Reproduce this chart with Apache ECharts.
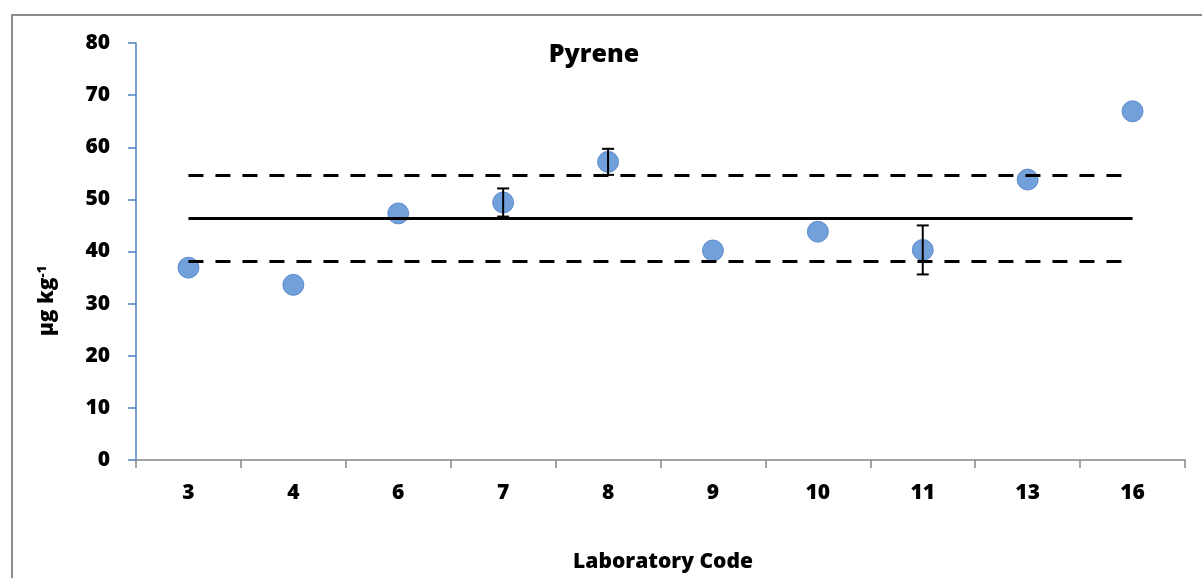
<!DOCTYPE html>
<html>
<head>
<meta charset="utf-8">
<script src="https://cdn.jsdelivr.net/npm/echarts@6/dist/echarts.min.js"></script>
<style>
  html, body { margin: 0; padding: 0; background: #ffffff; }
  #wrap { position: relative; width: 1202px; height: 578px; overflow: hidden; }
  #frame { position: absolute; left: 11px; top: 14px; width: 1300px; height: 700px;
           border-left: 2px solid #8c8c8c; border-top: 2px solid #8c8c8c; box-sizing: border-box; }
  #chart { position: absolute; left: 0; top: 0; width: 1202px; height: 578px; }
</style>
</head>
<body>
<div id="wrap">
  <div id="frame"></div>
  <div id="chart"></div>
</div>
<script>
// Laboratory codes and reported pyrene results (µg kg-1)
const labCodes = ['3', '4', '6', '7', '8', '9', '10', '11', '13', '16'];
const results = [36.9, 33.6, 47.3, 49.4, 57.2, 40.2, 43.8, 40.3, 53.8, 66.9];
// Reported uncertainty (± half-range); null where none was given
const uncertainty = [null, null, null, 2.7, 2.5, null, null, 4.7, null, null];
// Assigned value and acceptance limits
const assignedValue = 46.3;
const upperLimit = 54.6;
const lowerLimit = 38.1;
const yTicks = { min: 0, max: 80, interval: 10 };

const FONT = '"Open Sans", "Liberation Sans", sans-serif';
const WEIGHT = 800;
const chart = echarts.init(document.getElementById('chart'), null, { renderer: 'canvas' });

const errorData = labCodes.map((c, i) => uncertainty[i] == null ? null
  : [i, results[i] - uncertainty[i], results[i] + uncertainty[i]]);

function refLine(value, type) {
  return {
    silent: true,
    symbol: ['none', 'none'],
    label: { show: false },
    lineStyle: { color: '#000000', width: 3.2, type: type, dashOffset: 0 },
    data: [[{ coord: [labCodes[0], value] }, { coord: [labCodes[labCodes.length - 1], value] }]]
  };
}

chart.setOption({
  animation: false,
  grid: { left: 136, right: 17, top: 43, bottom: 118, containLabel: false },
  title: {
    text: 'Pyrene',
    left: 589, top: 37,
    textAlign: 'center',
    textStyle: { fontFamily: FONT, fontWeight: WEIGHT, fontSize: 25, color: '#000' }
  },
  xAxis: {
    type: 'category',
    data: labCodes,
    boundaryGap: true,
    axisLine: { lineStyle: { color: '#868686', width: 1.5 } },
    axisTick: { show: true, length: 8, alignWithLabel: false, lineStyle: { color: '#868686', width: 1.5 } },
    axisLabel: { margin: 23, fontFamily: FONT, fontWeight: WEIGHT, fontSize: 21, color: '#000' },
    splitLine: { show: false }
  },
  yAxis: {
    type: 'value',
    min: yTicks.min, max: yTicks.max, interval: yTicks.interval,
    axisLine: { show: true, lineStyle: { color: '#4f81bd', width: 1.5 } },
    axisTick: { show: true, length: 8, lineStyle: { color: '#4f81bd', width: 1.5 } },
    axisLabel: { margin: 26, fontFamily: FONT, fontWeight: WEIGHT, fontSize: 21, color: '#000' },
    splitLine: { show: false }
  },
  graphic: [
    {
      type: 'text', x: 47, y: 301, rotation: Math.PI / 2,
      style: {
        text: '{m|µg kg}{s|-1}',
        align: 'center', verticalAlign: 'middle',
        rich: {
          m: { fontFamily: FONT, fontWeight: WEIGHT, fontSize: 21, fill: '#000' },
          s: { fontFamily: FONT, fontWeight: WEIGHT, fontSize: 13, fill: '#000', verticalAlign: 'top', padding: [0, 0, 10, 0] }
        }
      }
    },
    {
      type: 'text', x: 663, y: 562,
      style: {
        text: 'Laboratory Code', align: 'center', verticalAlign: 'middle',
        fontFamily: FONT, fontWeight: WEIGHT, fontSize: 21, fill: '#000'
      }
    }
  ],
  series: [
    {
      name: 'Result',
      type: 'scatter',
      data: results,
      symbol: 'circle',
      symbolSize: 21,
      z: 2,
      itemStyle: { color: '#4f88d2', borderColor: '#4a7cc0', borderWidth: 1 }
    },
    {
      name: 'Uncertainty',
      type: 'custom',
      z: 3,
      data: errorData.filter(d => d),
      renderItem: function (params, api) {
        const x = api.coord([api.value(0), api.value(1)])[0];
        const lo = api.coord([api.value(0), api.value(1)])[1];
        const hi = api.coord([api.value(0), api.value(2)])[1];
        const hw = 6;
        const st = { stroke: '#000', lineWidth: 2 };
        return {
          type: 'group',
          children: [
            { type: 'line', shape: { x1: x, y1: lo, x2: x, y2: hi }, style: st },
            { type: 'line', shape: { x1: x - hw, y1: lo, x2: x + hw, y2: lo }, style: st },
            { type: 'line', shape: { x1: x - hw, y1: hi, x2: x + hw, y2: hi }, style: st }
          ]
        };
      }
    },
    {
      name: 'Assigned value',
      type: 'line', data: [], z: 4,
      markLine: refLine(assignedValue, 'solid')
    },
    {
      name: 'Upper limit',
      type: 'line', data: [], z: 4,
      markLine: refLine(upperLimit, [15, 12])
    },
    {
      name: 'Lower limit',
      type: 'line', data: [], z: 4,
      markLine: refLine(lowerLimit, [15, 12])
    }
  ]
});
</script>
</body>
</html>
